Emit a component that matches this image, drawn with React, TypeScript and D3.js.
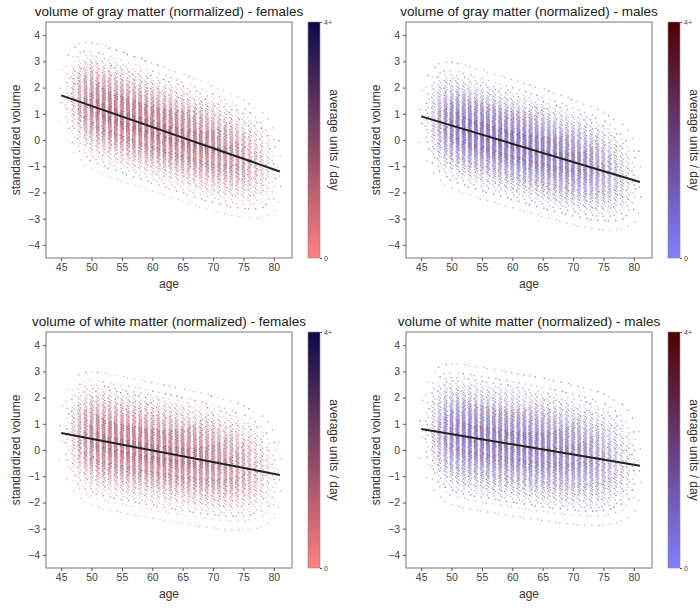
import React, { useEffect, useRef } from 'react';
import * as d3 from 'd3';

// ages recorded (integer years), and how many subjects were sampled at each age
const ages = d3.range(45, 82);
const countsPerAge = [4, 18, 55, 110, 170, 210, 235, 245, 250, 250, 250, 250, 250, 250, 250, 248, 246, 244, 240, 236, 232, 226, 220, 212, 204, 194, 184, 172, 156, 138, 118, 96, 74, 52, 32, 16, 6];

// regression line end values at ages 45 and 81, and spread around it
const panelTitles = [
  'volume of gray matter (normalized) - females',
  'volume of gray matter (normalized) - males',
  'volume of white matter (normalized) - females',
  'volume of white matter (normalized) - males',
];
const lineStart = [1.7, 0.9, 0.65, 0.8];
const lineEnd = [-1.2, -1.6, -0.95, -0.6];
const spread = [0.85, 0.85, 0.9, 0.95];
const sexes = ['f', 'm', 'f', 'm'];

const femaleColors = ['#ff8080', '#0a0a4a'];
const maleColors = ['#8080ff', '#500000'];
const xTicks = [45, 50, 55, 60, 65, 70, 75, 80];
const yTicks = [-4, -3, -2, -1, 0, 1, 2, 3, 4];

const panelBoxes = [
  { left: 46, top: 22 },
  { left: 406, top: 22 },
  { left: 46, top: 332 },
  { left: 406, top: 332 },
];
const W = 246;
const H = 236;

const App: React.FC = () => {
  const svgRef = useRef<SVGSVGElement>(null);

  useEffect(() => {
    const svg = d3.select(svgRef.current);
    svg.selectAll('*').remove();
    const font = 'Liberation Sans, Arial, sans-serif';
    const quantile = (p: number) => {
      // rational approximation of the normal quantile
      const t = Math.sqrt(-2 * Math.log(p < 0.5 ? p : 1 - p));
      const z = t - (2.515517 + 0.802853 * t + 0.010328 * t * t) / (1 + 1.432788 * t + 0.189269 * t * t + 0.001308 * t * t * t);
      return p < 0.5 ? -z : z;
    };

    panelBoxes.forEach((box, pi) => {
      const g = svg.append('g').attr('transform', `translate(${box.left},${box.top})`);
      const x = d3.scaleLinear().domain([42.5, 83]).range([0, W]);
      const y = d3.scaleLinear().domain([-4.5, 4.5]).range([H, 0]);
      const fit = d3.scaleLinear().domain([45, 81]).range([lineStart[pi], lineEnd[pi]]);
      const cols = sexes[pi] === 'f' ? femaleColors : maleColors;
      const color = d3.scaleLinear<string>().domain([0, 1]).range(cols).interpolate(d3.interpolateRgb);

      const pts: { x: number; y: number; c: number }[] = [];
      ages.forEach((a, ai) => {
        const n = countsPerAge[ai];
        for (let k = 0; k < n; k++) {
          const q = (k + 0.5) / n;
          const jx = ((k * 0.618034 + ai * 0.31) % 1) - 0.5;
          const cv = Math.pow((k * 0.7548777 + pi * 0.13) % 1, 2);
          pts.push({ x: a + jx * 0.6, y: fit(a) + spread[pi] * quantile(q), c: cv });
        }
      });

      g.append('g').selectAll('rect').data(pts).join('rect')
        .attr('x', d => x(d.x) - 0.7).attr('y', d => y(d.y) - 0.7)
        .attr('width', 1.4).attr('height', 1.4)
        .attr('fill', d => color(d.c)).attr('opacity', 0.5);

      g.append('line')
        .attr('x1', x(45)).attr('x2', x(81))
        .attr('y1', y(fit(45))).attr('y2', y(fit(81)))
        .attr('stroke', '#222').attr('stroke-width', 2);

      g.append('rect').attr('width', W).attr('height', H)
        .attr('fill', 'none').attr('stroke', '#777').attr('stroke-width', 1);

      const xa = g.append('g').attr('transform', `translate(0,${H})`)
        .call(d3.axisBottom(x).tickValues(xTicks).tickSize(3).tickPadding(3));
      const ya = g.append('g').call(d3.axisLeft(y).tickValues(yTicks).tickSize(3).tickPadding(3)
        .tickFormat(d => (+d < 0 ? '\u2212' + Math.abs(+d) : String(d))));
      [xa, ya].forEach(ax => {
        ax.select('.domain').remove();
        ax.selectAll('line').attr('stroke', '#555');
        ax.selectAll('text').attr('fill', '#444').style('font-size', '10.5px').style('font-family', font);
      });

      g.append('text').attr('x', W / 2).attr('y', -6).attr('text-anchor', 'middle')
        .attr('fill', '#222').style('font-size', '13.5px').style('font-family', font)
        .text(panelTitles[pi]);
      g.append('text').attr('x', W / 2).attr('y', H + 30).attr('text-anchor', 'middle')
        .attr('fill', '#333').style('font-size', '12px').style('font-family', font).text('age');
      g.append('text').attr('transform', `translate(-26,${H / 2}) rotate(-90)`).attr('text-anchor', 'middle')
        .attr('fill', '#333').style('font-size', '12px').style('font-family', font).text('standardized volume');

      // colour bar
      const gradId = `grad${pi}`;
      const grad = svg.append('defs').append('linearGradient').attr('id', gradId)
        .attr('x1', 0).attr('y1', 1).attr('x2', 0).attr('y2', 0);
      grad.append('stop').attr('offset', 0).attr('stop-color', cols[0]);
      grad.append('stop').attr('offset', 1).attr('stop-color', cols[1]);
      const cb = g.append('g').attr('transform', `translate(${W + 16},0)`);
      cb.append('rect').attr('width', 12).attr('height', H).attr('fill', `url(#${gradId})`)
        .attr('stroke', '#888').attr('stroke-width', 0.6);
      const cbScale = d3.scaleLinear().domain([0, 1]).range([H, 0]);
      const cba = cb.append('g').attr('transform', 'translate(12,0)')
        .call(d3.axisRight(cbScale).tickValues([0, 1]).tickSize(2).tickPadding(2).tickFormat(d => (+d === 1 ? '4+' : '0')));
      cba.select('.domain').remove();
      cba.selectAll('line').attr('stroke', '#555');
      cba.selectAll('text').attr('fill', '#444').style('font-size', '7px').style('font-family', font);
      cb.append('text').attr('transform', `translate(22,${H / 2}) rotate(90)`).attr('text-anchor', 'middle')
        .attr('fill', '#333').style('font-size', '12px').style('font-family', font).text('average units / day');
    });
  }, []);

  return (
    <div style={{ position: 'absolute', left: 0, top: 0, width: 700, height: 609, background: '#fff' }}>
      <svg ref={svgRef} width={700} height={609} />
    </div>
  );
};

export default App;
